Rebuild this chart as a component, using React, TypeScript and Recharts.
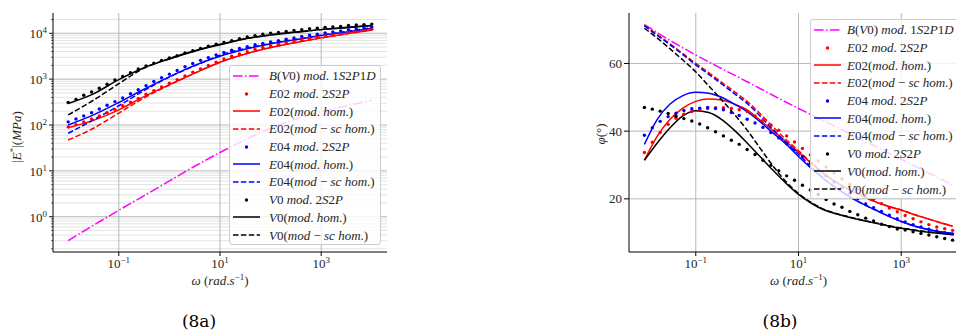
import React from 'react';
import { ComposedChart, Line, Scatter, XAxis, YAxis, CartesianGrid } from 'recharts';

// ---------- frequencies (rad/s) ----------
const omegaCoarse = [0.01, 0.0316, 0.1, 0.316, 1, 3.16, 10, 31.6, 100, 316, 1000, 3162, 10000];
const omegaFine = [0.01, 0.0178, 0.0316, 0.0562, 0.1, 0.178, 0.316, 0.562, 1, 1.78, 3.16, 5.62, 10, 17.8, 31.6, 56.2, 100, 178, 316, 562, 1000, 1778, 3162, 5623, 10000];
const omegaDots = [0.01, 0.01425, 0.0203, 0.029, 0.0412, 0.0587, 0.0838, 0.1194, 0.1701, 0.2424, 0.3455, 0.4924, 0.7017, 1, 1.425, 2.031, 2.894, 4.125, 5.878, 8.377, 11.94, 17.01, 24.24, 34.55, 49.24, 70.17, 100, 142.5, 203.1, 289.4, 412.5, 587.8, 837.7, 1194, 1701, 2424, 3455, 4924, 7017, 10000];

// ---------- (8a) |E*| in MPa ----------
const eB_V0_1S2P1D = [0.3, 0.65, 1.38, 2.88, 6.03, 12.6, 25.1, 47.9, 85.1, 135, 195, 263, 347];
const eE02_hom = [87, 126, 214, 417, 759, 1349, 2344, 3548, 4898, 6310, 7943, 9772, 11750];
const eE02_sc = [47, 85, 182, 389, 741, 1349, 2344, 3548, 4898, 6310, 7943, 9772, 11750];
const eE04_hom = [100, 166, 309, 603, 1122, 1995, 3162, 4467, 5888, 7244, 8913, 10720, 12880];
const eE04_sc = [66, 129, 263, 562, 1122, 1950, 3311, 4677, 6026, 7413, 9120, 10960, 13180];
const eV0_hom = [295, 479, 977, 1778, 2754, 4074, 5623, 7586, 9120, 10470, 12020, 13180, 14790];
const eV0_sc = [166, 347, 794, 1738, 2818, 4169, 5754, 7586, 9333, 10720, 12020, 13490, 14790];
const eE02_2S2P = [91, 102, 117, 135, 158, 186, 219, 263, 316, 380, 468, 562, 676, 813, 977, 1175, 1413, 1660, 1995, 2344, 2754, 3162, 3548, 3981, 4467, 4898, 5370, 5754, 6310, 6761, 7244, 7762, 8318, 8913, 9550, 10000, 10720, 11220, 11750, 12300];
const eE04_2S2P = [117, 135, 158, 186, 224, 269, 324, 389, 479, 589, 724, 891, 1072, 1288, 1549, 1862, 2188, 2570, 2951, 3388, 3802, 4266, 4677, 5129, 5623, 6026, 6457, 6918, 7413, 7943, 8511, 9120, 9550, 10230, 10720, 11220, 12020, 12590, 13180, 13800];
const eV0_2S2P = [309, 363, 447, 525, 631, 776, 955, 1148, 1380, 1660, 1950, 2239, 2570, 2884, 3236, 3715, 4169, 4677, 5248, 5754, 6310, 6918, 7586, 8318, 8913, 9550, 10000, 10470, 10960, 11480, 12020, 12590, 12880, 13490, 13800, 14130, 14790, 15140, 15490, 15850];

// ---------- (8b) phase angle in degrees ----------
const phiB_V0_1S2P1D = [71.5, 66.8, 62.5, 58.5, 54.6, 50.6, 46.7, 43.0, 39.3, 35.5, 31.7, 27.9, 24.1];
const phiE02_hom = [31.4, 38.5, 43.5, 46.8, 48.8, 49.5, 49.2, 48.0, 46.3, 43.3, 40.2, 37.0, 33.8, 30.5, 27.3, 24.8, 22.6, 20.8, 19.1, 17.8, 16.7, 15.4, 14.2, 13.0, 11.9];
const phiE02_sc = [71.3, 68.5, 65.8, 62.9, 60.0, 57.3, 54.5, 51.7, 48.8, 45.2, 41.3, 37.6, 34.2, 30.7, 27.4, 24.8, 22.6, 20.8, 19.1, 17.8, 16.7, 15.4, 14.2, 13.0, 11.9];
const phiE04_hom = [36.1, 43.5, 48.0, 50.5, 51.5, 51.2, 50.0, 48.0, 45.8, 42.8, 39.5, 36.3, 32.5, 29.0, 25.8, 23.0, 20.6, 18.5, 16.7, 14.9, 13.3, 12.0, 11.0, 10.3, 9.8];
const phiE04_sc = [71.1, 68.3, 65.5, 62.6, 59.6, 56.8, 54.0, 51.1, 48.2, 44.5, 40.5, 36.7, 33.2, 29.4, 26.0, 23.0, 20.6, 18.5, 16.7, 14.9, 13.3, 12.0, 11.0, 10.3, 9.8];
const phiV0_hom = [31.4, 36.5, 41.0, 44.5, 46.0, 45.5, 43.5, 40.3, 36.5, 32.5, 28.5, 24.7, 21.3, 18.7, 16.7, 15.5, 14.5, 13.6, 12.8, 12.0, 11.3, 10.7, 10.2, 9.8, 9.4];
const phiV0_sc = [70.4, 67.5, 64.3, 61.0, 57.5, 53.4, 49.3, 45.0, 40.3, 35.0, 29.8, 25.2, 21.6, 18.9, 16.9, 15.6, 14.6, 13.7, 12.9, 12.1, 11.4, 10.8, 10.3, 9.9, 9.5];
const phiE02_2S2P = [33.7, 36.7, 39.6, 42.0, 43.8, 45.0, 45.8, 46.3, 46.7, 46.9, 46.9, 46.7, 46.3, 45.8, 44.5, 43.2, 41.8, 40.3, 38.6, 36.8, 34.9, 33.0, 31.2, 29.4, 27.6, 25.9, 24.3, 22.8, 21.3, 19.9, 18.6, 17.3, 16.2, 15.1, 14.1, 13.2, 12.4, 11.7, 11.2, 10.7];
const phiE04_2S2P = [38.8, 41.0, 42.9, 44.3, 45.3, 46.1, 46.6, 46.8, 47.0, 46.7, 46.3, 45.5, 44.6, 43.5, 42.4, 41.1, 39.6, 38.0, 36.3, 34.4, 32.5, 30.5, 28.6, 26.8, 25.0, 23.3, 21.6, 20.0, 18.5, 17.4, 16.3, 15.2, 14.1, 13.2, 12.4, 11.7, 11.0, 10.5, 10.0, 9.6];
const phiV0_2S2P = [47.0, 46.5, 45.9, 45.2, 44.4, 43.7, 43.0, 42.1, 41.0, 39.8, 38.6, 37.3, 36.1, 34.6, 33.1, 31.4, 29.9, 28.3, 26.8, 25.5, 24.0, 22.6, 21.3, 19.8, 18.5, 17.5, 16.3, 15.3, 14.3, 13.5, 12.5, 11.8, 11.1, 10.8, 10.3, 9.8, 9.3, 8.8, 8.3, 7.8];

// ---------- axis ticks ----------
const xTicks = [0.1, 10, 1000];
const yMajorA = [1, 10, 100, 1000, 10000];
const yMinorA: number[] = [];
[0.1, 1, 10, 100, 1000, 10000].forEach((d) => {
  for (let m = 2; m <= 9; m++) {
    const v = +(m * d).toPrecision(3);
    if (v >= 0.17 && v <= 27000) yMinorA.push(v);
  }
});
const yTicksB = [20, 40, 60];

const X_DOMAIN: [number, number] = [0.005012, 19953];
const YA_DOMAIN: [number, number] = [0.17, 27700];
const YB_DOMAIN: [number, number] = [4.3, 74.9];

const rows = (w: number[], v: number[]) => w.map((x, i) => ({ w: x, v: v[i] }));

const RED = '#ff0000';
const BLUE = '#0000ff';
const BLACK = '#000000';
const MAGENTA = '#ff00ff';
const DASH = '5.5 2.4';
const DASHDOT = '9.6 2.4 1.5 2.4';
const SERIF = '"Liberation Serif", "DejaVu Serif", serif';

type SeriesDef = { label: string; color: string; kind: 'solid' | 'dashed' | 'dashdot' | 'dot' };
const legendItems: SeriesDef[] = [
  { label: 'B(V0) mod. 1S2P1D', color: MAGENTA, kind: 'dashdot' },
  { label: 'E02 mod. 2S2P', color: RED, kind: 'dot' },
  { label: 'E02(mod. hom.)', color: RED, kind: 'solid' },
  { label: 'E02(mod \u2212 sc hom.)', color: RED, kind: 'dashed' },
  { label: 'E04 mod. 2S2P', color: BLUE, kind: 'dot' },
  { label: 'E04(mod. hom.)', color: BLUE, kind: 'solid' },
  { label: 'E04(mod \u2212 sc hom.)', color: BLUE, kind: 'dashed' },
  { label: 'V0 mod. 2S2P', color: BLACK, kind: 'dot' },
  { label: 'V0(mod. hom.)', color: BLACK, kind: 'solid' },
  { label: 'V0(mod \u2212 sc hom.)', color: BLACK, kind: 'dashed' },
];

function mathSpans(s: string) {
  const parts = s.match(/[A-Za-z]+|[^A-Za-z]+/g) || [];
  return parts.map((p, i) =>
    /[A-Za-z]/.test(p) ? (
      <span key={i} style={{ fontStyle: 'italic' }}>{p}</span>
    ) : (
      <span key={i}>{p}</span>
    )
  );
}

const Dot = (props: any) => {
  const { cx, cy, fill } = props;
  if (cx == null || cy == null) return null;
  return <circle cx={cx} cy={cy} r={1.7} fill={fill} />;
};

const supOf = (v: number) => {
  const e = Math.round(Math.log10(v));
  return e < 0 ? '\u2212' + Math.abs(e) : String(e);
};

const XPowTick = (props: any) => {
  const { x, y, payload } = props;
  return (
    <text x={x} y={y + 10} textAnchor="middle" fontFamily={SERIF} fontSize={13} fill="#262626">
      <tspan>10</tspan>
      <tspan dy={-5} fontSize={9}>{supOf(payload.value)}</tspan>
    </text>
  );
};

const YPowTickA = (props: any) => {
  const { x, y, payload } = props;
  const v = payload.value;
  const e = Math.log10(v);
  const isMajor = Math.abs(e - Math.round(e)) < 1e-6;
  return (
    <g>
      <line x1={x} y1={y} x2={x - (isMajor ? 4 : 2)} y2={y} stroke="#000" strokeWidth={isMajor ? 0.9 : 0.6} />
      {isMajor && (
        <text x={x - 6} y={y + 5} textAnchor="end" fontFamily={SERIF} fontSize={13} fill="#262626">
          <tspan>10</tspan>
          <tspan dy={-5} fontSize={9}>{supOf(v)}</tspan>
        </text>
      )}
    </g>
  );
};

const YNumTick = (props: any) => {
  const { x, y, payload } = props;
  return (
    <text x={x} y={y + 4.5} textAnchor="end" fontFamily={SERIF} fontSize={13} fill="#262626">
      {payload.value}
    </text>
  );
};

const XTitle = (props: any) => {
  const vb = props.viewBox || {};
  const cx = vb.x + vb.width / 2;
  return (
    <text x={cx} y={285} textAnchor="middle" fontFamily={SERIF} fontSize={13} fill="#262626">
      <tspan fontStyle="italic">{'\u03c9'}</tspan>
      <tspan>{' ('}</tspan>
      <tspan fontStyle="italic">rad</tspan>
      <tspan>.</tspan>
      <tspan fontStyle="italic">s</tspan>
      <tspan dy={-5} fontSize={9}>{'\u22121'}</tspan>
      <tspan dy={5}>)</tspan>
    </text>
  );
};

const YTitleA = () => {
  const x = 21;
  const y = 137;
  return (
    <text x={x} y={y} transform={`rotate(-90, ${x}, ${y})`} textAnchor="middle" fontFamily={SERIF} fontSize={13} fill="#262626">
      <tspan>|</tspan>
      <tspan fontStyle="italic">E</tspan>
      <tspan dy={-5} fontSize={9}>*</tspan>
      <tspan dy={5}>|(</tspan>
      <tspan fontStyle="italic">MPa</tspan>
      <tspan>)</tspan>
    </text>
  );
};

const YTitleB = () => {
  const x = 605;
  const y = 134;
  return (
    <text x={x - 580} y={y} transform={`rotate(-90, ${x - 580}, ${y})`} textAnchor="middle" fontFamily={SERIF} fontSize={13} fill="#262626">
      <tspan fontStyle="italic">{'\u03c6'}</tspan>
      <tspan>({'\u00b0'})</tspan>
    </text>
  );
};

function Swatch({ item }: { item: SeriesDef }) {
  return (
    <svg width={27} height={10} style={{ display: 'block' }}>
      {item.kind === 'dot' ? (
        <circle cx={13.5} cy={5} r={1.7} fill={item.color} />
      ) : (
        <line
          x1={0}
          y1={5}
          x2={27}
          y2={5}
          stroke={item.color}
          strokeWidth={1.5}
          strokeDasharray={item.kind === 'dashed' ? DASH : item.kind === 'dashdot' ? DASHDOT : undefined}
        />
      )}
    </svg>
  );
}

function LegendBox({ left, top, width, textGap }: { left: number; top: number; width: number; textGap: number }) {
  return (
    <div
      style={{
        position: 'absolute',
        left,
        top,
        width,
        height: 180,
        background: 'rgba(255,255,255,0.8)',
        border: '1px solid #cccccc',
        borderRadius: 3,
        boxSizing: 'border-box',
        paddingTop: 1,
      }}
    >
      {legendItems.map((it, i) => (
        <div key={i} style={{ display: 'flex', alignItems: 'center', height: 17.7, whiteSpace: 'nowrap' }}>
          <div style={{ marginLeft: 3, width: 27 }}>
            <Swatch item={it} />
          </div>
          <div style={{ marginLeft: textGap, fontFamily: SERIF, fontSize: 13, color: '#262626', lineHeight: '17px' }}>
            {mathSpans(it.label)}
          </div>
        </div>
      ))}
    </div>
  );
}

const Caption = ({ cx, text }: { cx: number; text: string }) => (
  <div
    style={{
      position: 'absolute',
      left: cx - 40,
      width: 80,
      top: 311,
      height: 20,
      lineHeight: '20px',
      textAlign: 'center',
      fontFamily: '"DejaVu Serif", serif',
      fontSize: 17,
      color: '#000',
    }}
  >
    {text}
  </div>
);

export default function App() {
  return (
    <div style={{ position: 'absolute', left: 0, top: 0, width: 956, height: 333, overflow: 'hidden', background: '#fff' }}>
      {/* ---------------- (8a) ---------------- */}
      <div style={{ position: 'absolute', left: 0, top: 0 }}>
        <ComposedChart width={400} height={333} margin={{ top: 13, right: 13, bottom: 41, left: 3 }}>
          <CartesianGrid vertical={false} horizontalValues={yMinorA} stroke="#dcdcdc" strokeWidth={0.8} />
          <CartesianGrid verticalValues={xTicks} horizontalValues={yMajorA} stroke="#b0b0b0" strokeWidth={0.9} />
          <XAxis
            dataKey="w"
            type="number"
            scale="log"
            domain={X_DOMAIN}
            allowDataOverflow
            ticks={xTicks}
            interval={0}
            height={40}
            tickSize={4}
            tickMargin={2}
            stroke="#000"
            tick={<XPowTick />}
            label={<XTitle />}
          />
          <XAxis xAxisId="top" orientation="top" type="number" scale="log" domain={X_DOMAIN} allowDataOverflow height={0} tick={false} tickLine={false} stroke="#000" />
          <YAxis
            dataKey="v"
            type="number"
            scale="log"
            domain={YA_DOMAIN}
            allowDataOverflow
            ticks={[...yMajorA, ...yMinorA]}
            interval={0}
            width={50}
            tickSize={0}
            tickMargin={0}
            tickLine={false}
            stroke="#000"
            tick={<YPowTickA />}
            label={<YTitleA />}
          />
          <YAxis yAxisId="right" orientation="right" type="number" scale="log" domain={YA_DOMAIN} allowDataOverflow width={0} tick={false} tickLine={false} stroke="#000" />

          <Line data={rows(omegaCoarse, eB_V0_1S2P1D)} dataKey="v" type="monotone" stroke={MAGENTA} strokeWidth={1.5} strokeDasharray={DASHDOT} dot={false} isAnimationActive={false} />
          <Scatter data={rows(omegaDots, eE02_2S2P)} dataKey="v" fill={RED} shape={<Dot />} isAnimationActive={false} />
          <Line data={rows(omegaCoarse, eE02_hom)} dataKey="v" type="monotone" stroke={RED} strokeWidth={1.5} dot={false} isAnimationActive={false} />
          <Line data={rows(omegaCoarse, eE02_sc)} dataKey="v" type="monotone" stroke={RED} strokeWidth={1.5} strokeDasharray={DASH} dot={false} isAnimationActive={false} />
          <Scatter data={rows(omegaDots, eE04_2S2P)} dataKey="v" fill={BLUE} shape={<Dot />} isAnimationActive={false} />
          <Line data={rows(omegaCoarse, eE04_hom)} dataKey="v" type="monotone" stroke={BLUE} strokeWidth={1.5} dot={false} isAnimationActive={false} />
          <Line data={rows(omegaCoarse, eE04_sc)} dataKey="v" type="monotone" stroke={BLUE} strokeWidth={1.5} strokeDasharray={DASH} dot={false} isAnimationActive={false} />
          <Scatter data={rows(omegaDots, eV0_2S2P)} dataKey="v" fill={BLACK} shape={<Dot />} isAnimationActive={false} />
          <Line data={rows(omegaCoarse, eV0_hom)} dataKey="v" type="monotone" stroke={BLACK} strokeWidth={1.5} dot={false} isAnimationActive={false} />
          <Line data={rows(omegaCoarse, eV0_sc)} dataKey="v" type="monotone" stroke={BLACK} strokeWidth={1.5} strokeDasharray={DASH} dot={false} isAnimationActive={false} />
        </ComposedChart>
      </div>
      <LegendBox left={229} top={65} width={152} textGap={9} />
      <Caption cx={199} text="(8a)" />

      {/* ---------------- (8b) ---------------- */}
      <div style={{ position: 'absolute', left: 580, top: 0 }}>
        <ComposedChart width={400} height={333} margin={{ top: 13, right: 12, bottom: 41, left: 4 }}>
          <CartesianGrid verticalValues={xTicks} horizontalValues={yTicksB} stroke="#b0b0b0" strokeWidth={0.9} />
          <XAxis
            dataKey="w"
            type="number"
            scale="log"
            domain={X_DOMAIN}
            allowDataOverflow
            ticks={xTicks}
            interval={0}
            height={40}
            tickSize={4}
            tickMargin={2}
            stroke="#000"
            tick={<XPowTick />}
            label={<XTitle />}
          />
          <XAxis xAxisId="top" orientation="top" type="number" scale="log" domain={X_DOMAIN} allowDataOverflow height={0} tick={false} tickLine={false} stroke="#000" />
          <YAxis
            dataKey="v"
            type="number"
            domain={YB_DOMAIN}
            allowDataOverflow
            ticks={yTicksB}
            interval={0}
            width={45}
            tickSize={5}
            tickMargin={2}
            stroke="#000"
            tick={<YNumTick />}
            label={<YTitleB />}
          />

          <Line data={rows(omegaCoarse, phiB_V0_1S2P1D)} dataKey="v" type="monotone" stroke={MAGENTA} strokeWidth={1.5} strokeDasharray={DASHDOT} dot={false} isAnimationActive={false} />
          <Scatter data={rows(omegaDots, phiE02_2S2P)} dataKey="v" fill={RED} shape={<Dot />} isAnimationActive={false} />
          <Line data={rows(omegaFine, phiE02_hom)} dataKey="v" type="monotone" stroke={RED} strokeWidth={1.5} dot={false} isAnimationActive={false} />
          <Line data={rows(omegaFine, phiE02_sc)} dataKey="v" type="monotone" stroke={RED} strokeWidth={1.5} strokeDasharray={DASH} dot={false} isAnimationActive={false} />
          <Scatter data={rows(omegaDots, phiE04_2S2P)} dataKey="v" fill={BLUE} shape={<Dot />} isAnimationActive={false} />
          <Line data={rows(omegaFine, phiE04_hom)} dataKey="v" type="monotone" stroke={BLUE} strokeWidth={1.5} dot={false} isAnimationActive={false} />
          <Line data={rows(omegaFine, phiE04_sc)} dataKey="v" type="monotone" stroke={BLUE} strokeWidth={1.5} strokeDasharray={DASH} dot={false} isAnimationActive={false} />
          <Scatter data={rows(omegaDots, phiV0_2S2P)} dataKey="v" fill={BLACK} shape={<Dot />} isAnimationActive={false} />
          <Line data={rows(omegaFine, phiV0_hom)} dataKey="v" type="monotone" stroke={BLACK} strokeWidth={1.5} dot={false} isAnimationActive={false} />
          <Line data={rows(omegaFine, phiV0_sc)} dataKey="v" type="monotone" stroke={BLACK} strokeWidth={1.5} strokeDasharray={DASH} dot={false} isAnimationActive={false} />
        </ComposedChart>
      </div>
      <LegendBox left={810} top={19} width={170} textGap={6} />
      <Caption cx={780} text="(8b)" />
    </div>
  );
}
